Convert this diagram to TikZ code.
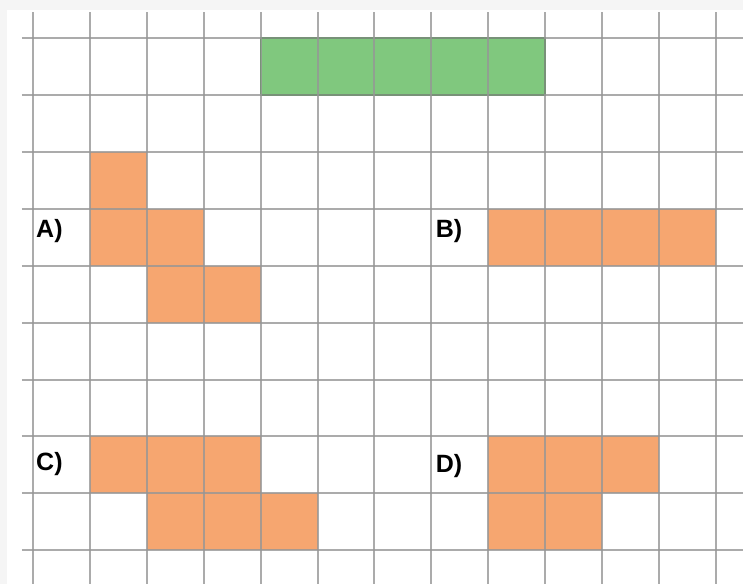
\documentclass[tikz,border=0pt]{standalone}
\usepackage{fontspec}
\setmainfont{Liberation Sans}
\definecolor{pieceorange}{RGB}{246,166,112}
\definecolor{piecegreen}{RGB}{128,200,126}
\definecolor{gridgray}{RGB}{150,150,150}
\begin{document}
\begin{tikzpicture}[x=1cm,y=1cm,
  every node/.style={font=\fontsize{12.5}{14}\selectfont\bfseries,inner sep=0pt,anchor=base west},
  piece/.style={fill=pieceorange,draw=none},
  gridline/.style={draw=gridgray,line width=1pt}]
% page and margins
\fill[black!4] (-0.579,0.667) rectangle (12.474,-9.596);
\fill[white] (-0.456,0.491) rectangle (12.474,-9.596);
% the green bar
\draw[fill=piecegreen,draw=green!50!black,line width=0.8pt] (4,0) rectangle (9,-1);
% A
\fill[piece] (1,-2) rectangle (2,-3);
\fill[piece] (1,-3) rectangle (3,-4);
\fill[piece] (2,-4) rectangle (4,-5);
% B
\fill[piece] (8,-3) rectangle (12,-4);
% C
\fill[piece] (1,-7) rectangle (4,-8);
\fill[piece] (2,-8) rectangle (5,-9);
% D
\fill[piece] (8,-7) rectangle (11,-8);
\fill[piece] (8,-8) rectangle (10,-9);
% grid
\foreach \i in {0,...,12}
  \draw[gridline,opacity=0.8] (\i,0.456) -- (\i,-9.596);
\foreach \j in {0,...,9}
  \draw[gridline,opacity=0.8] (-0.193,-\j) -- (12.474,-\j);
% labels
\node (labA) at (0.05,-3.51) {A)};
\node (labB) at (7.07,-3.51) {B)};
\node (labC) at (0.05,-7.60) {C)};
\node (labD) at (7.07,-7.63) {D)};
\end{tikzpicture}
\end{document}
